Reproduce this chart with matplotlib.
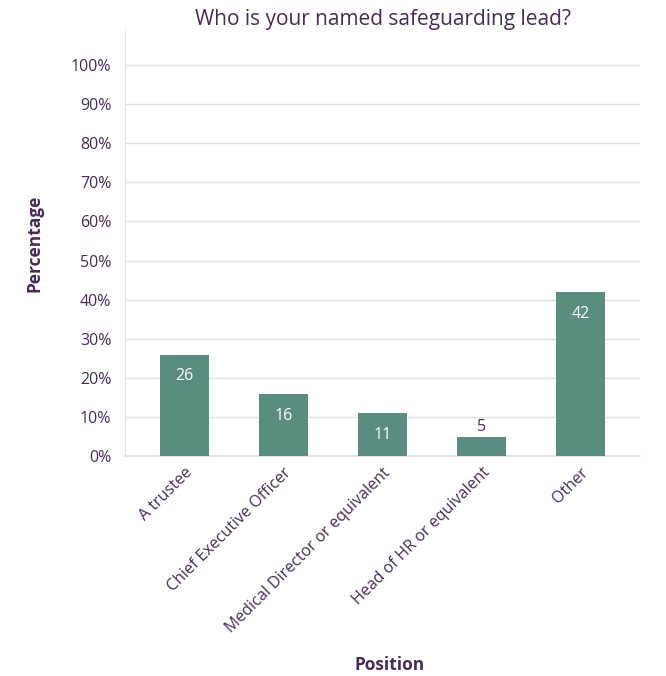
import numpy as np
import matplotlib.pyplot as plt
from matplotlib.ticker import PercentFormatter

positions = ['A trustee', 'Chief Executive Officer', 'Medical Director or equivalent',
             'Head of HR or equivalent', 'Other']
percentages = [26, 16, 11, 5, 42]

text_col = '#4a2b55'
bar_col = '#5b8c82'
grid_col = '#e4e1e9'

plt.rcParams['font.family'] = ['Open Sans', 'DejaVu Sans']

fig = plt.figure(figsize=(6.66, 6.76), dpi=100)
ax = fig.add_axes([0.188, 0.325, 0.773, 0.631])

x = np.arange(len(positions))
bars = ax.bar(x, percentages, width=0.5, color=bar_col, zorder=3)

# value labels: inside the bar, or above it when the bar is too short
for rect, val in zip(bars, percentages):
    cx = rect.get_x() + rect.get_width() / 2
    if val >= 8:
        ax.text(cx, val - 5.6, str(val), ha='center', va='center', color='white', fontsize=11.5, zorder=4)
    else:
        ax.text(cx, val + 2.6, str(val), ha='center', va='center', color=text_col, fontsize=11.5, zorder=4)

ax.set_xlim(-0.6, 4.6)
ax.set_ylim(0, 109)
ax.set_yticks(np.arange(0, 101, 10))
ax.yaxis.set_major_formatter(PercentFormatter(decimals=0))
ax.set_xticks(x)
ax.set_xticklabels(positions, rotation=45, ha='right', rotation_mode='anchor')

ax.grid(axis='y', color=grid_col, linewidth=1, zorder=0)
ax.tick_params(axis='y', length=0, colors=text_col, labelsize=11.5, pad=10)
ax.tick_params(axis='x', length=0, colors=text_col, labelsize=11.5, pad=6)
for side in ['top', 'right']:
    ax.spines[side].set_visible(False)
ax.spines['left'].set_color(grid_col)
ax.spines['bottom'].set_color(grid_col)
ax.spines['bottom'].set_linewidth(1.5)

ax.set_title('Who is your named safeguarding lead?', color=text_col, fontsize=15, pad=2)
ax.set_ylabel('Percentage', color=text_col, fontsize=12.5, fontweight='bold', labelpad=20)
fig.text(0.585, 0.003, 'Position', color=text_col, fontsize=12.5, fontweight='bold', ha='center', va='bottom')

fig.savefig('out.png', dpi=100)
